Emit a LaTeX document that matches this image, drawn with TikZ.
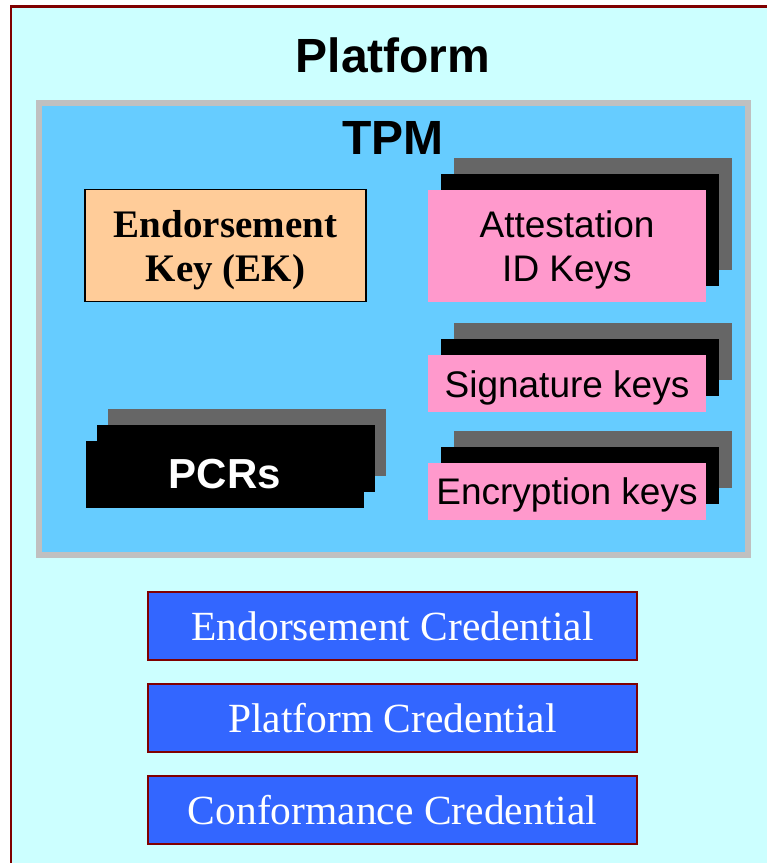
\documentclass[tikz,border=0pt]{standalone}
\usepackage{fontspec}
\setsansfont{Liberation Sans}
\newfontfamily\credfont{Liberation Serif}
\usepackage{tikz}
\usetikzlibrary{positioning}
\definecolor{platformbg}{HTML}{CCFFFF}
\definecolor{tpmbg}{HTML}{66CCFF}
\definecolor{tpmline}{HTML}{C0C0C0}
\definecolor{frame}{HTML}{800000}
\definecolor{ekfill}{HTML}{FFCC99}
\definecolor{keypink}{HTML}{FF99CC}
\definecolor{keygray}{HTML}{666666}
\definecolor{credblue}{HTML}{3366FF}
\newcommand{\lowtext}[1]{\raisebox{0pt}[\dimexpr\height+10pt\relax]{\begin{tabular}{@{}c@{}}#1\end{tabular}}}

\begin{document}
\begin{tikzpicture}[x=1pt,y=-1pt,
    title/.style={font=\sffamily\bfseries\fontsize{48}{52}\selectfont},
    back node/.style={rectangle,inner sep=0pt,minimum width=278pt,fill=keygray},
    mid node/.style={rectangle,inner sep=0pt,minimum width=278pt,fill=black},
    key node/.style={rectangle,inner sep=0pt,minimum width=278pt,fill=keypink,
      font=\sffamily\fontsize{37}{44}\selectfont},
    cred node/.style={rectangle,draw=frame,line width=2pt,fill=credblue,text=white,inner sep=0pt,
      minimum width=489pt,minimum height=68pt,font=\credfont\fontsize{41.5}{44}\selectfont}]
  \clip (0,0) rectangle (767,863);
  \fill[white] (0,0) rectangle (767,863);
  % platform and tpm
  \draw[frame,line width=2.5pt,fill=platformbg] (11,6.5) rectangle (800,900);
  \draw[tpmline,line width=6pt,fill=tpmbg] (39,103) rectangle (748,555);
  \node[title] (platform) at (393,55) {Platform};
  \node[title] (tpm) at (393,138) {TPM};
  \begin{scope}
    \node[rectangle,draw,line width=1.5pt,fill=ekfill,inner sep=0pt,minimum width=281pt,minimum height=112pt,
      font=\credfont\bfseries\fontsize{39}{44}\selectfont] (ek) at (225.5,245.5) {\lowtext{Endorsement\\Key (EK)}};
    % attestation id keys
    \node[back node,minimum height=112pt] (aik3) at (593,214) {};
    \node[mid node,minimum height=112pt] (aik2) at (580,230) {};
    \node[key node,minimum height=112pt] (aik) at (567,246) {\lowtext{Attestation\\ID Keys}};
    % signature keys
    \node[back node,minimum height=57pt] (sig3) at (593,351.5) {};
    \node[mid node,minimum height=57pt] (sig2) at (580,367.5) {};
    \node[key node,minimum height=57pt] (sig) at (567,383.5) {\lowtext{Signature keys}};
    % encryption keys
    \node[back node,minimum height=57pt] (enc3) at (593,459.5) {};
    \node[mid node,minimum height=57pt] (enc2) at (580,475.5) {};
    \node[key node,minimum height=57pt] (enc) at (567,491) {\lowtext{Encryption keys}};
    % pcrs
    \node[back node,minimum height=67pt] (pcr3) at (247,442.5) {};
    \node[mid node,minimum height=67pt] (pcr2) at (236,458.5) {};
    \node[mid node,minimum height=67pt,text=white,font=\sffamily\bfseries\fontsize{42}{46}\selectfont] (pcr) at (225,474.5) {PCRs};
  \end{scope}
  % credentials
  \node[cred node] (endcred) at (392.5,626) {Endorsement Credential};
  \node[cred node] (platcred) at (392.5,718) {Platform Credential};
  \node[cred node] (confcred) at (392.5,810) {Conformance Credential};
\end{tikzpicture}
\end{document}
